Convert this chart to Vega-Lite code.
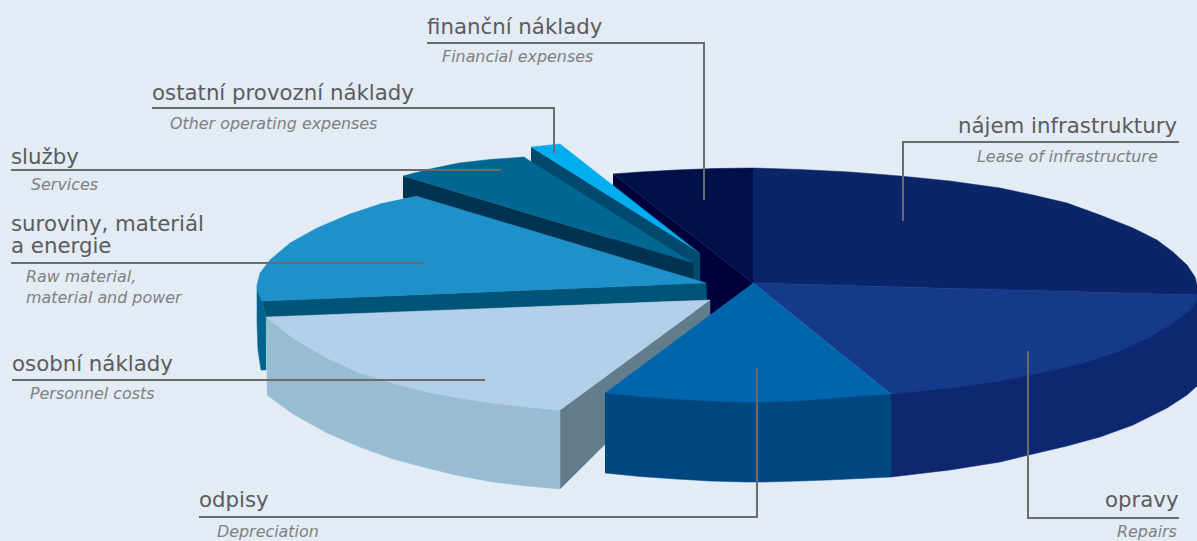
{"$schema":"https://vega.github.io/schema/vega-lite/v6.json","width":1197,"height":541,"padding":0,"autosize":"none","background":"#e3ebf5","config":{"view":{"stroke":null}},
"datasets":{
"faces":[
{"p":"fin side","i":0,"x":613,"y":174},{"p":"fin side","i":1,"x":753,"y":283},{"p":"fin side","i":2,"x":712,"y":325},{"p":"fin side","i":3,"x":613,"y":255},
{"p":"fin top","i":0,"x":613,"y":174},{"p":"fin top","i":1,"x":640,"y":172},{"p":"fin top","i":2,"x":676,"y":170},{"p":"fin top","i":3,"x":715,"y":168.5},{"p":"fin top","i":4,"x":753,"y":168},{"p":"fin top","i":5,"x":753,"y":283},
{"p":"najem top","i":0,"x":753,"y":168},{"p":"najem top","i":1,"x":800,"y":169.5},{"p":"najem top","i":2,"x":850,"y":172},{"p":"najem top","i":3,"x":900,"y":176},{"p":"najem top","i":4,"x":950,"y":181},{"p":"najem top","i":5,"x":1000,"y":188},{"p":"najem top","i":6,"x":1033,"y":195},{"p":"najem top","i":7,"x":1067,"y":203},{"p":"najem top","i":8,"x":1100,"y":215},{"p":"najem top","i":9,"x":1133,"y":228},{"p":"najem top","i":10,"x":1157,"y":240},{"p":"najem top","i":11,"x":1173,"y":252},{"p":"najem top","i":12,"x":1187,"y":265},{"p":"najem top","i":13,"x":1195,"y":277},{"p":"najem top","i":14,"x":1197,"y":285},{"p":"najem top","i":15,"x":1197,"y":295},{"p":"najem top","i":16,"x":753,"y":283},
{"p":"opravy side","i":0,"x":1197,"y":295},{"p":"opravy side","i":1,"x":1197,"y":386},{"p":"opravy side","i":2,"x":1187,"y":395},{"p":"opravy side","i":3,"x":1167,"y":408},{"p":"opravy side","i":4,"x":1133,"y":425},{"p":"opravy side","i":5,"x":1100,"y":437},{"p":"opravy side","i":6,"x":1067,"y":446},{"p":"opravy side","i":7,"x":1033,"y":454},{"p":"opravy side","i":8,"x":1000,"y":462},{"p":"opravy side","i":9,"x":950,"y":470},{"p":"opravy side","i":10,"x":891,"y":477},{"p":"opravy side","i":11,"x":891,"y":394},
{"p":"opravy top","i":0,"x":753,"y":283},{"p":"opravy top","i":1,"x":1197,"y":295},{"p":"opravy top","i":2,"x":1197,"y":300},{"p":"opravy top","i":3,"x":1190,"y":310},{"p":"opravy top","i":4,"x":1173,"y":323},{"p":"opravy top","i":5,"x":1150,"y":337},{"p":"opravy top","i":6,"x":1117,"y":352},{"p":"opravy top","i":7,"x":1083,"y":363},{"p":"opravy top","i":8,"x":1050,"y":371},{"p":"opravy top","i":9,"x":1000,"y":381},{"p":"opravy top","i":10,"x":950,"y":388},{"p":"opravy top","i":11,"x":891,"y":394},
{"p":"ost side","i":0,"x":531,"y":147},{"p":"ost side","i":1,"x":700,"y":253},{"p":"ost side","i":2,"x":700,"y":283},{"p":"ost side","i":3,"x":531,"y":177},
{"p":"ost top","i":0,"x":531,"y":147},{"p":"ost top","i":1,"x":560,"y":144},{"p":"ost top","i":2,"x":698,"y":252},
{"p":"sl side","i":0,"x":403,"y":176},{"p":"sl side","i":1,"x":693,"y":263},{"p":"sl side","i":2,"x":693,"y":282},{"p":"sl side","i":3,"x":403,"y":198},
{"p":"sl top","i":0,"x":403,"y":176},{"p":"sl top","i":1,"x":430,"y":169},{"p":"sl top","i":2,"x":459,"y":163},{"p":"sl top","i":3,"x":490,"y":159.5},{"p":"sl top","i":4,"x":524,"y":157},{"p":"sl top","i":5,"x":530,"y":161},{"p":"sl top","i":6,"x":693,"y":263},
{"p":"raw curve","i":0,"x":257,"y":285},{"p":"raw curve","i":1,"x":257,"y":323},{"p":"raw curve","i":2,"x":258,"y":350},{"p":"raw curve","i":3,"x":261,"y":370},{"p":"raw curve","i":4,"x":266,"y":370},{"p":"raw curve","i":5,"x":266,"y":318},{"p":"raw curve","i":6,"x":262,"y":301},
{"p":"raw side","i":0,"x":262,"y":301},{"p":"raw side","i":1,"x":706,"y":283},{"p":"raw side","i":2,"x":707,"y":300},{"p":"raw side","i":3,"x":266,"y":318},
{"p":"raw top","i":0,"x":416,"y":196},{"p":"raw top","i":1,"x":706,"y":283},{"p":"raw top","i":2,"x":262,"y":301},{"p":"raw top","i":3,"x":258,"y":293},{"p":"raw top","i":4,"x":257,"y":285},{"p":"raw top","i":5,"x":260,"y":273},{"p":"raw top","i":6,"x":270,"y":260},{"p":"raw top","i":7,"x":290,"y":243},{"p":"raw top","i":8,"x":317,"y":228},{"p":"raw top","i":9,"x":350,"y":214},{"p":"raw top","i":10,"x":383,"y":203},
{"p":"per inner","i":0,"x":560,"y":410},{"p":"per inner","i":1,"x":710,"y":300},{"p":"per inner","i":2,"x":710,"y":340},{"p":"per inner","i":3,"x":560,"y":489},
{"p":"per side","i":0,"x":266,"y":317},{"p":"per side","i":1,"x":293,"y":338},{"p":"per side","i":2,"x":327,"y":358},{"p":"per side","i":3,"x":360,"y":373},{"p":"per side","i":4,"x":393,"y":383},{"p":"per side","i":5,"x":427,"y":392},{"p":"per side","i":6,"x":460,"y":398},{"p":"per side","i":7,"x":493,"y":403},{"p":"per side","i":8,"x":527,"y":407},{"p":"per side","i":9,"x":560,"y":410},{"p":"per side","i":10,"x":560,"y":489},{"p":"per side","i":11,"x":527,"y":486},{"p":"per side","i":12,"x":493,"y":482},{"p":"per side","i":13,"x":460,"y":476},{"p":"per side","i":14,"x":427,"y":468},{"p":"per side","i":15,"x":393,"y":459},{"p":"per side","i":16,"x":360,"y":447},{"p":"per side","i":17,"x":327,"y":433},{"p":"per side","i":18,"x":293,"y":414},{"p":"per side","i":19,"x":267,"y":395},
{"p":"per top","i":0,"x":266,"y":317},{"p":"per top","i":1,"x":710,"y":300},{"p":"per top","i":2,"x":560,"y":410},{"p":"per top","i":3,"x":527,"y":407},{"p":"per top","i":4,"x":493,"y":403},{"p":"per top","i":5,"x":460,"y":398},{"p":"per top","i":6,"x":427,"y":392},{"p":"per top","i":7,"x":393,"y":383},{"p":"per top","i":8,"x":360,"y":373},{"p":"per top","i":9,"x":327,"y":358},{"p":"per top","i":10,"x":293,"y":338},
{"p":"odp side","i":0,"x":605,"y":393},{"p":"odp side","i":1,"x":891,"y":394},{"p":"odp side","i":2,"x":891,"y":477},{"p":"odp side","i":3,"x":860,"y":478.5},{"p":"odp side","i":4,"x":828,"y":480},{"p":"odp side","i":5,"x":800,"y":481},{"p":"odp side","i":6,"x":764,"y":482},{"p":"odp side","i":7,"x":745,"y":482},{"p":"odp side","i":8,"x":710,"y":481},{"p":"odp side","i":9,"x":676,"y":479},{"p":"odp side","i":10,"x":640,"y":476.5},{"p":"odp side","i":11,"x":605,"y":473},
{"p":"odp top","i":0,"x":753,"y":283},{"p":"odp top","i":1,"x":891,"y":394},{"p":"odp top","i":2,"x":860,"y":396},{"p":"odp top","i":3,"x":828,"y":398.5},{"p":"odp top","i":4,"x":800,"y":400.5},{"p":"odp top","i":5,"x":764,"y":402},{"p":"odp top","i":6,"x":745,"y":402},{"p":"odp top","i":7,"x":710,"y":401},{"p":"odp top","i":8,"x":676,"y":399},{"p":"odp top","i":9,"x":640,"y":396.5},{"p":"odp top","i":10,"x":605,"y":393}
],
"leaders":[
{"l":"fin","i":0,"x":427,"y":43},{"l":"fin","i":1,"x":704,"y":43},{"l":"fin","i":2,"x":704,"y":200},
{"l":"ost","i":0,"x":152,"y":108},{"l":"ost","i":1,"x":554,"y":108},{"l":"ost","i":2,"x":554,"y":153},
{"l":"sl","i":0,"x":11,"y":170},{"l":"sl","i":1,"x":501,"y":170},
{"l":"raw","i":0,"x":11,"y":263},{"l":"raw","i":1,"x":425,"y":263},
{"l":"per","i":0,"x":12,"y":380},{"l":"per","i":1,"x":485,"y":380},
{"l":"odp","i":0,"x":199,"y":517},{"l":"odp","i":1,"x":757,"y":517},{"l":"odp","i":2,"x":757,"y":368},
{"l":"opr","i":0,"x":1028,"y":351},{"l":"opr","i":1,"x":1028,"y":518},{"l":"opr","i":2,"x":1179,"y":518},
{"l":"naj","i":0,"x":903,"y":221},{"l":"naj","i":1,"x":903,"y":142},{"l":"naj","i":2,"x":1179,"y":142}
],
"cz":[
{"t":"finanční náklady","x":427,"y":34},{"t":"ostatní provozní náklady","x":152,"y":100},{"t":"služby","x":11,"y":164},{"t":"suroviny, materiál","x":11,"y":231},{"t":"a energie","x":11,"y":253},{"t":"osobní náklady","x":12,"y":371},{"t":"odpisy","x":199,"y":507},{"t":"nájem infrastruktury","x":958,"y":133},{"t":"opravy","x":1105,"y":507}
],
"en":[
{"t":"Financial expenses","x":442,"y":62},{"t":"Other operating expenses","x":170,"y":129},{"t":"Services","x":31,"y":190},{"t":"Raw material,","x":26,"y":282},{"t":"material and power","x":26,"y":303},{"t":"Personnel costs","x":30,"y":399},{"t":"Depreciation","x":217,"y":537},{"t":"Lease of infrastructure","x":977,"y":162},{"t":"Repairs","x":1117,"y":537}
]},
"encoding":{
"x":{"field":"x","type":"quantitative","axis":null,"scale":{"domain":[0,1197],"nice":false,"zero":false}},
"y":{"field":"y","type":"quantitative","axis":null,"scale":{"domain":[541,0],"nice":false,"zero":false}}
},
"layer":[
{"data":{"name":"faces"},"mark":{"type":"line","strokeWidth":0.5,"interpolate":"linear"},
"encoding":{"order":{"field":"i","type":"quantitative"},
"fill":{"field":"p","type":"nominal","legend":null,"scale":{"domain":["fin side","fin top","najem top","opravy side","opravy top","ost side","ost top","sl side","sl top","raw curve","raw side","raw top","per inner","per side","per top","odp side","odp top"],"range":["#00003a","#001049","#0a2668","#0d2870","#163a8a","#004a6e","#00aeef","#00334f","#006793","#00648f","#005478","#1e91ca","#617d8b","#98bdd2","#b4cfe9","#004780","#0065ac"]}},
"stroke":{"field":"p","type":"nominal","legend":null,"scale":{"domain":["fin side","fin top","najem top","opravy side","opravy top","ost side","ost top","sl side","sl top","raw curve","raw side","raw top","per inner","per side","per top","odp side","odp top"],"range":["#00003a","#001049","#0a2668","#0d2870","#163a8a","#004a6e","#00aeef","#00334f","#006793","#00648f","#005478","#1e91ca","#617d8b","#98bdd2","#b4cfe9","#004780","#0065ac"]}}}},
{"data":{"name":"leaders"},"mark":{"type":"line","color":"#6b6b6b","strokeWidth":2,"strokeJoin":"miter"},
"encoding":{"order":{"field":"i","type":"quantitative"},"detail":{"field":"l"}}},
{"data":{"name":"cz"},"mark":{"type":"text","align":"left","baseline":"alphabetic","font":"DejaVu Sans","fontSize":21.3,"color":"#5c5c5c"},"encoding":{"text":{"field":"t"}}},
{"data":{"name":"en"},"mark":{"type":"text","align":"left","baseline":"alphabetic","font":"DejaVu Sans","fontStyle":"italic","fontSize":15.9,"color":"#808080"},"encoding":{"text":{"field":"t"}}}
]}
